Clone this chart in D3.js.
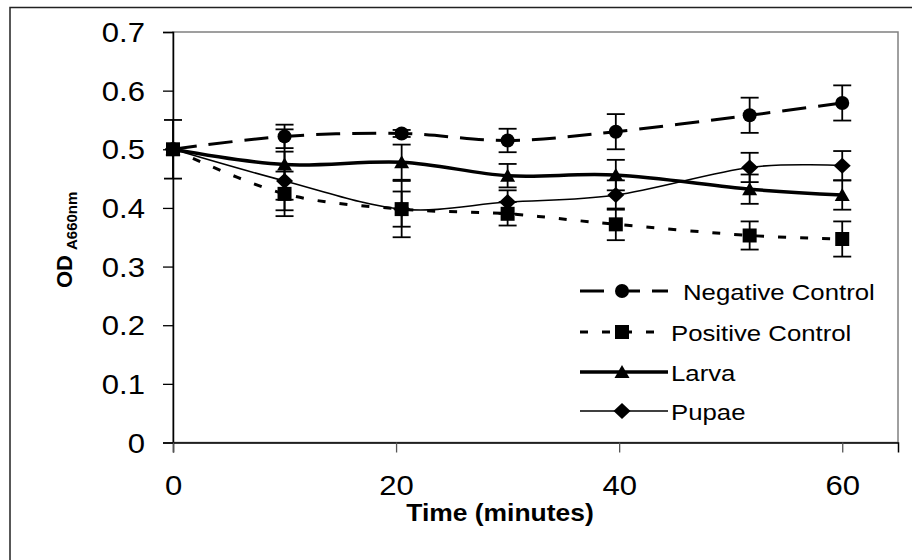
<!DOCTYPE html>
<html>
<head>
<meta charset="utf-8">
<script src="https://cdn.jsdelivr.net/npm/d3@7"></script>
<style>
  body { margin: 0; background: #fff; }
  text { font-family: "Liberation Sans", Arial, sans-serif; fill: #000; }
</style>
</head>
<body>
<svg id="chart" width="912" height="560"></svg>
<script>
// minutes
const times = [0, 10, 20.5, 30, 39.7, 51.7, 60];

const negative = [0.500, 0.522, 0.527, 0.515, 0.530, 0.558, 0.579];
const negativeErr = [0.050, 0.020, 0.006, 0.020, 0.030, 0.030, 0.030];

const positive = [0.500, 0.424, 0.398, 0.390, 0.372, 0.353, 0.347];
const positiveErr = [0, 0.038, 0.048, 0.020, 0.027, 0.024, 0.030];

const larva = [0.500, 0.474, 0.478, 0.455, 0.456, 0.432, 0.422];
const larvaErr = [0, 0.060, 0.030, 0.020, 0.026, 0.025, 0.025];

const pupae = [0.500, 0.446, 0.398, 0.410, 0.422, 0.469, 0.472];
const pupaeErr = [0, 0.050, 0.030, 0.020, 0.025, 0.025, 0.025];

const seriesNames = ["Negative Control", "Positive Control", "Larva", "Pupae"];
const yTicks = [0, 0.1, 0.2, 0.3, 0.4, 0.5, 0.6, 0.7];
const xTicks = [0, 20, 40, 60];

const series = [
  {name: seriesNames[0], values: negative, err: negativeErr, marker: "circle", width: 3, dash: "24,12"},
  {name: seriesNames[1], values: positive, err: positiveErr, marker: "square", width: 3, dash: "8,14"},
  {name: seriesNames[2], values: larva, err: larvaErr, marker: "triangle", width: 3.5, dash: null},
  {name: seriesNames[3], values: pupae, err: pupaeErr, marker: "diamond", width: 1.6, dash: null}
];

const svg = d3.select("#chart");
const stretch = 1.15; // the original text is a bit wide

const x = d3.scaleLinear().domain([0, 65]).range([173, 898]);
const y = d3.scaleLinear().domain([0, 0.7]).range([442.5, 32]);

const markerPath = {
  circle: "M7,0A7,7 0 1,1 -7,0A7,7 0 1,1 7,0Z",
  square: "M-7,-7H7V7H-7Z",
  triangle: "M0,-7L7.5,6H-7.5Z",
  diamond: "M0,-8L8.5,0L0,8L-8.5,0Z"
};

// outer chart frame (only top/left fall inside the picture)
svg.append("rect")
    .attr("x", 10).attr("y", 7.5)
    .attr("width", 1000).attr("height", 1000)
    .attr("fill", "none")
    .attr("stroke", "#222")
    .attr("stroke-width", 1.5);

// plot area border
svg.append("rect")
    .attr("x", x(0)).attr("y", y(0.7))
    .attr("width", x(65) - x(0)).attr("height", y(0) - y(0.7))
    .attr("fill", "none")
    .attr("stroke", "#808080")
    .attr("stroke-width", 1.5);

// y axis
const yAxis = svg.append("g")
    .attr("transform", "translate(" + x(0) + ",0)")
    .call(d3.axisLeft(y).tickValues(yTicks).tickSize(10).tickFormat(d3.format(".1~f")));
yAxis.select(".domain").attr("stroke", "#000").attr("stroke-width", 1.5);
yAxis.selectAll(".tick line").attr("stroke", "#000").attr("stroke-width", 1.3);
yAxis.selectAll(".tick text")
    .attr("x", null).attr("dy", null)
    .attr("font-size", 27)
    .attr("text-anchor", "end")
    .attr("transform", "translate(-28,9.5) scale(" + stretch + ",1)");

// x axis
const xAxis = svg.append("g")
    .attr("transform", "translate(0," + y(0) + ")")
    .call(d3.axisBottom(x).tickValues(xTicks).tickSize(10));
xAxis.select(".domain").attr("stroke", "#000").attr("stroke-width", 1.5);
xAxis.selectAll(".tick line").attr("stroke", "#555").attr("stroke-width", 1.3);
xAxis.selectAll(".tick text")
    .attr("y", null).attr("dy", null)
    .attr("font-size", 27)
    .attr("transform", "translate(0,52.5) scale(" + stretch + ",1)");

// axis titles
svg.append("text")
    .attr("transform", "translate(500,521) scale(" + stretch + ",1)")
    .attr("text-anchor", "middle")
    .attr("font-size", 23)
    .attr("font-weight", "bold")
    .text("Time (minutes)");

const yTitle = svg.append("text")
    .attr("transform", "translate(72,288) rotate(-90)")
    .attr("font-weight", "bold");
yTitle.append("tspan").attr("font-size", 22).text("OD");
yTitle.append("tspan").attr("font-size", 15).attr("dy", 5).attr("dx", 5).text("A660nm");

// lines
const line = d3.line()
    .x(d => x(d[0]))
    .y(d => y(d[1]))
    .curve(d3.curveCardinal.tension(0));

series.forEach(function(s) {
  const pts = times.map((t, i) => [t, s.values[i]]);
  svg.append("path")
      .datum(pts)
      .attr("d", line)
      .attr("fill", "none")
      .attr("stroke", "#000")
      .attr("stroke-width", s.width)
      .attr("stroke-dasharray", s.dash);
});

// error bars
series.forEach(function(s) {
  const g = svg.append("g").attr("stroke", "#000").attr("stroke-width", 1.8);
  times.forEach(function(t, i) {
    const e = s.err[i];
    if (!e) return;
    const cx = x(t);
    g.append("line")
        .attr("x1", cx).attr("x2", cx)
        .attr("y1", y(s.values[i] - e)).attr("y2", y(s.values[i] + e));
    [s.values[i] - e, s.values[i] + e].forEach(function(v) {
      g.append("line")
          .attr("x1", cx - 9).attr("x2", cx + 9)
          .attr("y1", y(v)).attr("y2", y(v));
    });
  });
});

// markers
series.forEach(function(s) {
  svg.append("g").selectAll("path")
    .data(times.map((t, i) => [t, s.values[i]]))
    .join("path")
      .attr("d", markerPath[s.marker])
      .attr("transform", d => "translate(" + x(d[0]) + "," + y(d[1]) + ")")
      .attr("fill", "#000");
});

// legend
const legendY = [291, 332, 372, 411];
const legend = svg.append("g");
series.forEach(function(s, i) {
  const ly = legendY[i];
  legend.append("line")
      .attr("x1", 580).attr("x2", 668)
      .attr("y1", ly).attr("y2", ly)
      .attr("stroke", "#000")
      .attr("stroke-width", s.width)
      .attr("stroke-dasharray", s.dash);
  legend.append("path")
      .attr("d", markerPath[s.marker])
      .attr("transform", "translate(622," + ly + ")")
      .attr("fill", "#000");
  legend.append("text")
      .attr("transform", "translate(" + (i === 0 ? 683 : 671) + "," + (ly + 8.5) + ") scale(1.12,1)")
      .attr("font-size", 23)
      .text(s.name);
});
</script>
</body>
</html>
